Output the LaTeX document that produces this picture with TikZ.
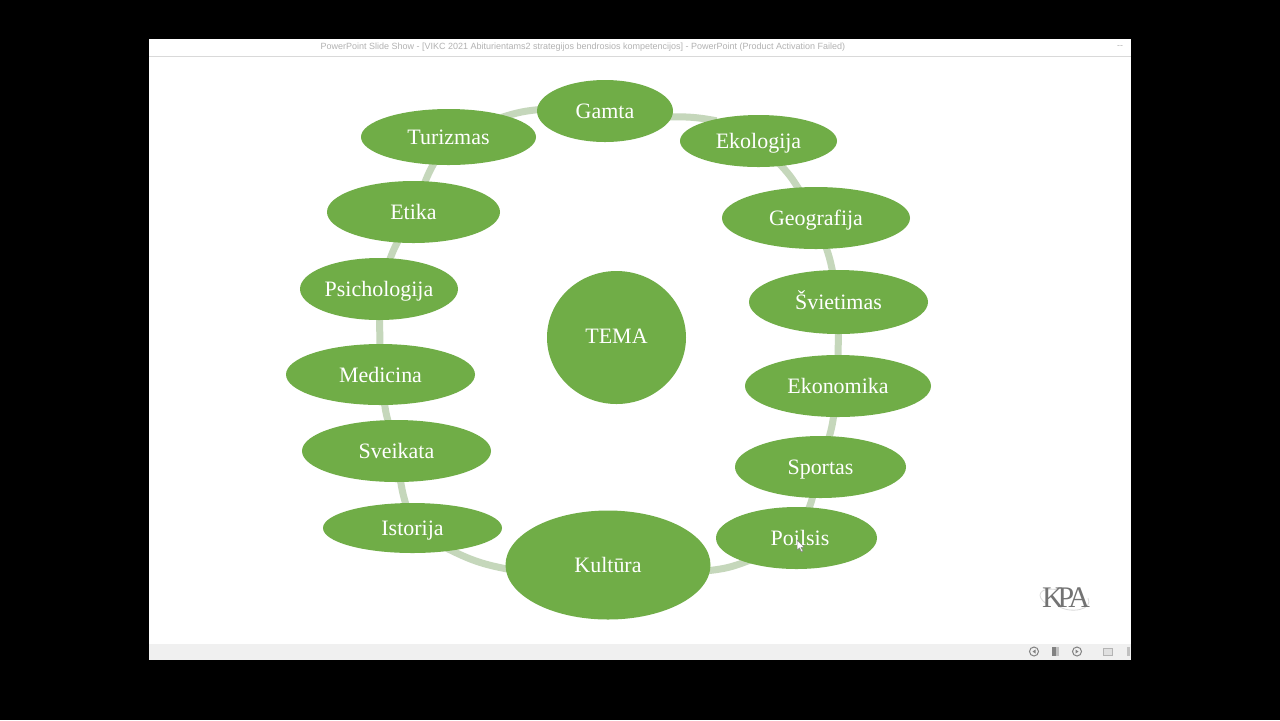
\documentclass[tikz,border=0pt]{standalone}
\usepackage{fontspec}
\setmainfont{Liberation Serif}
\newfontfamily\uifont{Liberation Sans}
\usetikzlibrary{shapes.geometric, backgrounds}
\pgfdeclarelayer{window}
\pgfsetlayers{window,background,main}
\definecolor{leaf}{RGB}{112,173,71}
\definecolor{ring}{RGB}{197,215,187}
\definecolor{barGrey}{RGB}{240,240,240}
\definecolor{titleGrey}{RGB}{178,178,178}
\definecolor{iconGrey}{RGB}{130,130,130}

\begin{document}
\begin{tikzpicture}[x=0.1mm, y=-0.1mm,
  oval/.style={ellipse, fill=leaf, inner sep=0pt, text=white, text height=1.5mm, text depth=0pt,
               font=\fontsize{6.25}{7.5}\selectfont},
  arc/.style={draw=ring, line width=0.7mm, shorten <=-0.6mm, shorten >=-0.6mm},
  tool/.style={draw=iconGrey, line width=0.1mm, circle, minimum size=0.9mm, inner sep=0pt}
]
\useasboundingbox (0,0) rectangle (1280,720);
\begin{pgfonlayer}{window}
\fill[black] (0,0) rectangle (1280,720);
\fill[white] (149,39) rectangle (1131,660);
\fill[barGrey] (149,644) rectangle (1131,660);
\draw[black!15, line width=0.1mm] (149,56) -- (1131,56);
\end{pgfonlayer}
\node[text=titleGrey, inner sep=0pt, font=\uifont\fontsize{2.56}{3}\selectfont] (title) at (583,47)
  {PowerPoint Slide Show - [VIKC 2021 Abiturientams2 strategijos bendrosios kompetencijos] - PowerPoint (Product Activation Failed)};
\node[text=titleGrey, inner sep=0pt, font=\uifont\fontsize{2.5}{3}\selectfont] (minimize) at (1120,47) {--};

% ring of topics
\node[oval, minimum width=13.6mm, minimum height=6.2mm] (gamta) at (605,111) {Gamta};
\node[oval, minimum width=15.7mm, minimum height=5.2mm] (ekologija) at (758.5,141) {Ekologija};
\node[oval, minimum width=18.8mm, minimum height=6.2mm] (geografija) at (816,218) {Geografija};
\node[oval, minimum width=17.9mm, minimum height=6.4mm] (svietimas) at (838.5,302) {Švietimas};
\node[oval, minimum width=18.6mm, minimum height=6.2mm] (ekonomika) at (838,386) {Ekonomika};
\node[oval, minimum width=17.1mm, minimum height=6.2mm] (sportas) at (820.5,467) {Sportas};
\node[oval, minimum width=16.1mm, minimum height=6.2mm] (poilsis) at (796.5,538) {\hspace*{0.7mm}Poilsis};
\node[oval, minimum width=20.5mm, minimum height=10.9mm] (kultura) at (608,565) {Kultūra};
\node[oval, minimum width=17.9mm, minimum height=5mm] (istorija) at (412.5,528) {Istorija};
\node[oval, minimum width=18.9mm, minimum height=6.2mm] (sveikata) at (396.5,451) {Sveikata};
\node[oval, minimum width=18.9mm, minimum height=6.1mm] (medicina) at (380.5,374.5) {Medicina};
\node[oval, minimum width=15.8mm, minimum height=6.2mm] (psichologija) at (379,289) {Psichologija};
\node[oval, minimum width=17.3mm, minimum height=6.2mm] (etika) at (413.5,212) {Etika};
\node[oval, minimum width=17.5mm, minimum height=5.6mm] (turizmas) at (448.5,137) {Turizmas};
\node[oval, minimum width=13.9mm, minimum height=13.3mm, text depth=0.3mm] (tema) at (616.5,337.5) {TEMA};

\begin{scope}[on background layer]
\draw[arc] (gamta.355) to[bend left=6] (ekologija.156);
\draw[arc] (ekologija) to[bend left=6] (geografija);
\draw[arc] (geografija) to[bend left=4] (svietimas);
\draw[arc] (svietimas) -- (ekonomika);
\draw[arc] (ekonomika) to[bend left=4] (sportas);
\draw[arc] (sportas) to[bend left=4] (poilsis);
\draw[arc] (poilsis.205) to[bend left=8] (kultura.357);
\draw[arc] (kultura.182) to[bend left=8] (istorija.330);
\draw[arc] (istorija) to[bend left=4] (sveikata);
\draw[arc] (sveikata) to[bend left=4] (medicina);
\draw[arc] (medicina) -- (psichologija);
\draw[arc] (psichologija) to[bend left=4] (etika);
\draw[arc] (etika) to[bend left=4] (turizmas);
\draw[arc] (turizmas.20) to[bend left=6] (gamta.179);
\end{scope}

% logo and slide show buttons
\draw[black!15, line width=0.08mm] (1058,590) .. controls (1040,586) and (1034,596) .. (1047,604);
\draw[black!15, line width=0.08mm] (1058,606) .. controls (1070,614) and (1094,610) .. (1088,598);
\node[text=black!55, inner sep=0pt, font=\fontsize{8.5}{10}\selectfont] (logo) at (1066,598) {K\kern-0.2em P\kern-0.2em A};
\node[tool] (back) at (1034,651.5) {};
\node[tool] (forward) at (1077,651.5) {};
\fill[iconGrey] (1052,647) rectangle (1055.5,656);
\fill[iconGrey!50] (1055.5,647) rectangle (1059,656);
\fill[iconGrey] (1032.5,651.5) -- (1035.5,649.5) -- (1035.5,653.5) -- cycle;
\fill[iconGrey] (1078.5,651.5) -- (1075.5,649.5) -- (1075.5,653.5) -- cycle;
\draw[iconGrey!60, fill=iconGrey!25, line width=0.1mm] (1103,648) rectangle (1112,655);
\fill[iconGrey!50] (1127,647) rectangle (1130,656);

% pointer
\draw[black!50, fill=white, line width=0.05mm] (797,540) -- (797,550) -- (799.5,548) -- (801.5,552) -- (803,551) -- (801,547.5) -- (804,547) -- cycle;
\end{tikzpicture}
\end{document}
